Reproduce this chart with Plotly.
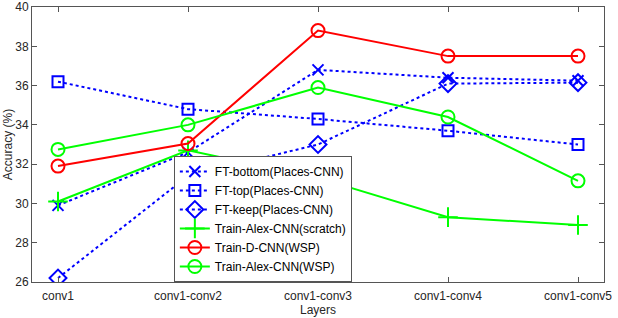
import plotly.graph_objects as go

layers = ["conv1", "conv1-conv2", "conv1-conv3", "conv1-conv4", "conv1-conv5"]
ft_bottom = [29.9, 32.6, 36.8, 36.4, 36.25]
ft_top = [36.2, 34.8, 34.3, 33.7, 33.0]
ft_keep = [26.2, 31.4, 33.0, 36.1, 36.15]
alex_scratch = [30.1, 32.7, 31.3, 29.3, 28.9]
dcnn_wsp = [31.9, 33.05, 38.8, 37.5, 37.5]
alex_wsp = [32.75, 34.0, 35.9, 34.4, 31.15]
y_ticks = [26, 28, 30, 32, 34, 36, 38, 40]

xi = list(range(len(layers)))
BLUE, GREEN, RED = "#0000ff", "#00ff00", "#ff0000"

series = [
    ("FT-bottom(Places-CNN)", ft_bottom, BLUE, "dot", "x-thin-open", 11),
    ("FT-top(Places-CNN)", ft_top, BLUE, "dot", "square-open", 11),
    ("FT-keep(Places-CNN)", ft_keep, BLUE, "dot", "diamond-open", 13),
    ("Train-Alex-CNN(scratch)", alex_scratch, GREEN, "solid", "cross-thin-open", 14),
    ("Train-D-CNN(WSP)", dcnn_wsp, RED, "solid", "circle-open", 13),
    ("Train-Alex-CNN(WSP)", alex_wsp, GREEN, "solid", "circle-open", 13),
]

fig = go.Figure()
for name, vals, col, dash, sym, sz in series:
    fig.add_trace(go.Scatter(
        x=xi, y=vals, name=name, mode="lines+markers",
        line=dict(color=col, width=2, dash=dash),
        marker=dict(symbol=sym, size=sz, color=col, line=dict(color=col, width=2)),
    ))

FONT = "Liberation Sans, Arial"
axis_common = dict(
    showline=True, linecolor="#555555", linewidth=1, mirror="ticks",
    ticks="inside", ticklen=5, tickcolor="#555555", showgrid=False, zeroline=False,
    automargin=False, ticklabeloverflow="allow",
    tickfont=dict(family=FONT, size=12, color="#262626"),
)
fig.update_xaxes(range=[-0.2, 4.2], tickvals=xi, ticktext=layers,
                 ticklabelstandoff=3,
                 title=dict(text="Layers",
                            font=dict(family=FONT, size=12, color="#262626")),
                 **axis_common)
fig.update_xaxes(automargin=True, title_standoff=0)
fig.update_yaxes(range=[25.999, 40.001], tickvals=y_ticks,
                 title=dict(text="Accuracy (%)", standoff=0,
                            font=dict(family=FONT, size=12, color="#262626")),
                 **axis_common)

fig.update_layout(
    width=618, height=318,
    margin=dict(l=32, r=10, t=6, b=33),
    plot_bgcolor="white", paper_bgcolor="white",
    legend=dict(x=0.248, y=0.0, xanchor="left", yanchor="bottom",
                bgcolor="white", bordercolor="#555555", borderwidth=1,
                font=dict(family=FONT, size=12, color="#000000"),
                tracegroupgap=0, itemwidth=30),
)
fig.write_html("out.html", config={"displayModeBar": False},
               post_script="document.body.style.margin='0';")
